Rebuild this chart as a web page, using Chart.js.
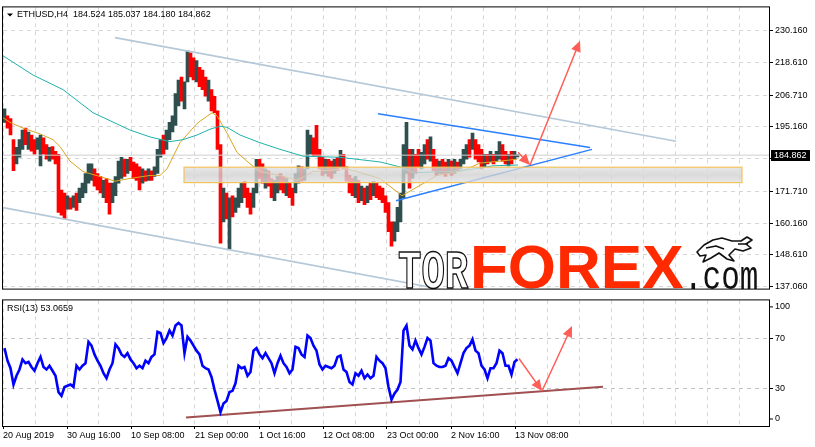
<!DOCTYPE html>
<html>
<head>
<meta charset="utf-8">
<script src="https://cdn.jsdelivr.net/npm/chart.js@4.4.0/dist/chart.umd.min.js"></script>
<style>
  html, body { margin: 0; padding: 0; background: #fff; }
  #wrap { position: relative; width: 815px; height: 447px; overflow: hidden; }
  #priceBox { position: absolute; left: 0; top: 0; width: 815px; height: 296px; }
  #rsiBox { position: absolute; left: 0; top: 293px; width: 815px; height: 154px; }
</style>
</head>
<body>
<div id="wrap">
  <div id="priceBox"><canvas id="priceChart"></canvas></div>
  <div id="rsiBox"><canvas id="rsiChart"></canvas></div>
</div>
<script>
// ETHUSD H4 + RSI(13)
// x axis = H4 bar count from 20 Aug 2019 00:00 (64 bars between date labels)

const xTickLabels = ['20 Aug 2019', '30 Aug 16:00', '10 Sep 08:00', '21 Sep 00:00', '1 Oct 16:00',
                     '12 Oct 08:00', '23 Oct 00:00', '2 Nov 16:00', '13 Nov 08:00'];
const priceTicks = [137.06, 148.61, 160.16, 171.71, 183.61, 195.16, 206.71, 218.61, 230.16];
const rsiTicks   = [0, 30, 70, 100];
const lastOHLC   = [184.524, 185.037, 184.180, 184.862];
const rsiLast    = 53.0659;

// price, one entry per 3 H4 bars
const barHigh = [
  201.7, 199.2, 198.2, 190.5, 187.7, 190.5, 194.0, 194.7, 193.3, 192.2,
  190.5, 191.2, 192.2, 191.2, 188.7, 187.7, 188.0, 186.3, 185.2, 172.2,
  171.1, 170.1, 169.4, 170.1, 171.1, 172.9, 174.7, 178.2, 181.7, 181.7,
  179.9, 178.2, 177.1, 175.7, 176.4, 174.7, 174.7, 177.1, 182.7, 184.1,
  183.4, 183.4, 184.1, 182.4, 181.7, 180.6, 179.9, 179.2, 179.9, 179.2,
  180.6, 187.0, 190.5, 192.2, 194.0, 196.8, 199.2, 207.3, 212.2, 213.3,
  211.5, 222.8, 222.1, 220.3, 219.3, 216.8, 215.8, 213.3, 212.2, 208.7,
  206.3, 201.0, 188.7, 172.9, 171.1, 169.4, 170.1, 169.4, 172.9, 174.7,
  175.4, 172.9, 171.1, 172.9, 183.4, 183.4, 181.7, 179.9, 179.2, 176.4,
  175.7, 177.1, 178.2, 177.1, 176.4, 174.7, 172.9, 178.2, 181.0, 180.6,
  179.9, 194.0, 192.2, 191.2, 195.7, 187.0, 184.1, 183.4, 183.4, 182.7,
  183.4, 184.1, 186.6, 185.2, 180.6, 177.5, 176.4, 177.1, 175.7, 173.6,
  172.9, 173.6, 174.7, 175.4, 174.7, 173.6, 172.9, 170.1, 167.6, 160.6,
  160.6, 165.9, 171.1, 188.7, 196.8, 187.0, 187.0, 185.2, 187.0, 185.9,
  188.7, 190.5, 191.5, 187.0, 183.4, 182.7, 183.4, 182.4, 183.4, 182.7,
  183.4, 182.4, 183.4, 187.0, 188.7, 190.5, 192.9, 190.5, 188.7, 187.0,
  185.2, 185.2, 186.3, 185.2, 186.3, 189.8, 188.7, 186.3, 185.2, 186.3,
  186.3, 185.0
];
const barLow = [
  196.8, 194.7, 192.2, 179.2, 181.7, 184.1, 187.0, 188.7, 187.0, 186.3,
  185.2, 187.0, 181.0, 185.2, 183.4, 182.7, 183.4, 181.7, 164.1, 163.1,
  161.7, 165.2, 165.2, 165.9, 164.8, 167.6, 169.4, 171.1, 174.7, 175.7,
  173.6, 172.2, 171.1, 169.4, 167.6, 163.4, 167.6, 170.1, 174.7, 176.4,
  177.1, 178.2, 179.2, 176.4, 175.7, 172.2, 174.7, 175.4, 175.7, 175.7,
  177.1, 178.2, 184.1, 185.2, 187.0, 190.5, 193.3, 195.7, 202.8, 204.5,
  201.7, 211.5, 213.3, 212.2, 211.5, 209.8, 208.7, 206.3, 204.5, 201.0,
  200.3, 187.0, 152.9, 160.6, 161.7, 150.8, 162.4, 164.1, 165.9, 167.6,
  169.4, 165.9, 163.4, 165.9, 171.1, 176.4, 174.7, 172.9, 173.6, 169.4,
  168.3, 171.1, 172.2, 171.1, 170.1, 169.4, 166.6, 171.1, 174.7, 175.4,
  175.7, 179.9, 185.2, 184.5, 184.5, 179.9, 177.5, 178.2, 177.1, 176.4,
  178.2, 179.2, 180.6, 179.9, 175.4, 171.1, 170.1, 169.4, 167.6, 168.3,
  166.9, 167.6, 168.7, 170.1, 169.4, 168.7, 167.6, 164.1, 157.1, 151.8,
  153.6, 157.1, 160.6, 169.4, 178.2, 172.9, 176.4, 178.2, 180.6, 179.9,
  181.7, 183.4, 182.7, 179.2, 177.5, 178.2, 178.2, 177.1, 178.2, 177.5,
  178.2, 179.2, 179.9, 181.7, 183.4, 184.1, 187.0, 183.4, 182.4, 179.9,
  180.6, 181.7, 182.4, 181.7, 182.7, 183.4, 182.7, 181.7, 181.0, 181.7,
  183.4, 184.2
];
// u = up candle, d = down candle
const barDir = ('udddu uudud duudd udddd dudud uuuuu dddud duuuu duddd dudud uuudu uuuud ' +
                'uuddu dddud dddud uduuu ddduu ddudd uuddu dduud uuudd ddudd ududd ddudu ' +
                'dudud ddddd uuuuu duddu ududd uddud uduuu duddd ududu uddud uu').replace(/ /g, '');

// RSI(13), one entry per 3 H4 bars
const rsiValues = [
  62, 52, 46, 33, 40, 45, 53, 50, 51, 47,
  44, 50, 55, 47, 45, 48, 44, 40, 27, 24,
  31, 32, 33, 31, 48, 45, 48, 50, 67, 64,
  57, 52, 48, 42, 38, 45, 50, 65, 62, 57,
  55, 58, 53, 50, 46, 48, 46, 52, 50, 55,
  57, 75, 74, 66, 70, 76, 72, 80, 82, 80,
  58, 71, 68, 64, 60, 57, 48, 46, 45, 39,
  29, 20, 11, 18, 20, 27, 28, 34, 48, 46,
  47, 40, 43, 60, 62, 57, 54, 58, 54, 50,
  42, 50, 56, 50, 47, 42, 45, 63, 62, 57,
  55, 72, 70, 64, 60, 49, 45, 48, 47, 46,
  48, 55, 56, 45, 43, 35, 33, 42, 40, 44,
  38, 41, 38, 40, 55, 52, 50, 46, 31, 21,
  26, 29, 35, 76, 80, 64, 61, 68, 62, 57,
  63, 70, 68, 50, 48, 47, 47, 48, 54, 52,
  47, 42, 50, 58, 62, 64, 69, 60, 58, 48,
  45, 38, 46, 46, 50, 60, 58, 48, 48, 41,
  51, 53.07
];

// moving averages (teal = slow, orange = fast)
const maSlowX = [0, 30, 60, 90, 127, 147, 167, 180, 194, 207, 217, 224, 237, 257, 277, 300, 337, 377, 397, 410, 444, 467, 490, 515];
const maSlow  = [221.0, 214.0, 208.7, 200.3, 194.0, 191.5, 189.8, 190.5, 192.2, 194.3, 195.4, 195.0, 192.2, 189.4,
                 187.0, 184.5, 184.1, 182.4, 180.6, 178.5, 178.9, 179.6, 181.0, 181.3];
const maFastX = [0, 7, 20, 37, 50, 57, 67, 80, 97, 112, 127, 147, 157, 164, 177, 194, 209, 214, 224, 234, 247,
                 257, 277, 294, 310, 344, 377, 399, 417, 434, 460, 477, 497, 514];
const maFast  = [198.5, 196.8, 194.7, 192.6, 190.5, 188.0, 182.7, 178.9, 177.1, 175.4, 176.4, 177.5, 177.5, 179.9,
                 189.4, 196.4, 200.3, 199.2, 192.9, 185.9, 181.7, 178.9, 177.5, 175.7, 178.9, 179.9, 176.4, 170.1,
                 173.9, 177.5, 179.2, 182.0, 182.7, 183.4];

// drawn objects
const channelTopX = [112, 673];  const channelTop = [227.6, 189.9];
const channelBotX = [0, 440];    const channelBot = [165.8, 136.0];
const wedgeTopX   = [375, 587];  const wedgeTop   = [199.95, 187.66];
const wedgeBotX   = [393, 589];  const wedgeBot   = [168.3, 187.0];
const zoneX = [181, 739];        const zoneY = [174.9, 180.5];
const priceArrows = [[515, 185.9, 527, 181.3], [527, 181.3, 577, 226.5]];
const rsiTrendX = [183, 600];    const rsiTrend = [6.7, 31.2];
const rsiArrows = [[516, 53.7, 539, 27.9], [539, 27.9, 569, 79.6]];

const X_MAX = 766;
const GRID = '#d6d6d6';

Chart.defaults.font.family = '"Liberation Sans", Arial, sans-serif';
Chart.defaults.font.size = 9;
Chart.defaults.color = '#000';

const pts = (xs, ys) => xs.map((x, i) => ({ x, y: ys[i] }));

function drawArrow(ctx, x1, y1, x2, y2, color) {
  const a = Math.atan2(y2 - y1, x2 - x1);
  const len = 11, half = 5;
  ctx.strokeStyle = color;
  ctx.fillStyle = color;
  ctx.lineWidth = 1.5;
  ctx.beginPath();
  ctx.moveTo(x1, y1);
  ctx.lineTo(x2 - Math.cos(a) * len * 0.7, y2 - Math.sin(a) * len * 0.7);
  ctx.stroke();
  ctx.beginPath();
  ctx.moveTo(x2, y2);
  ctx.lineTo(x2 - len * Math.cos(a) + half * Math.sin(a), y2 - len * Math.sin(a) - half * Math.cos(a));
  ctx.lineTo(x2 - len * Math.cos(a) - half * Math.sin(a), y2 - len * Math.sin(a) + half * Math.cos(a));
  ctx.closePath();
  ctx.fill();
}

const zonePlugin = {
  id: 'zone',
  afterDatasetsDraw(chart) {
    const { ctx, scales: { x, y } } = chart;
    const l = x.getPixelForValue(zoneX[0]), r = x.getPixelForValue(zoneX[1]);
    const t = y.getPixelForValue(zoneY[1]), b = y.getPixelForValue(zoneY[0]);
    ctx.save();
    const g = ctx.createLinearGradient(0, t, 0, b);
    g.addColorStop(0, 'rgba(225,225,225,0.78)');
    g.addColorStop(0.5, 'rgba(208,208,208,0.78)');
    g.addColorStop(1, 'rgba(225,225,225,0.78)');
    ctx.fillStyle = g;
    ctx.fillRect(l, t, r - l, b - t);
    ctx.strokeStyle = '#f3c35a';
    ctx.lineWidth = 1.2;
    ctx.strokeRect(l, t, r - l, b - t);
    ctx.restore();
  }
};

const arrowsPlugin = {
  id: 'arrows',
  afterDatasetsDraw(chart, args, opts) {
    const { ctx, scales: { x, y } } = chart;
    ctx.save();
    (opts.list || []).forEach(a => {
      drawArrow(ctx, x.getPixelForValue(a[0]), y.getPixelForValue(a[1]),
                x.getPixelForValue(a[2]), y.getPixelForValue(a[3]), opts.color);
    });
    ctx.restore();
  }
};

// site watermark: TORFOREX.com with the bull/bear mark
const watermarkPlugin = {
  id: 'watermark',
  afterDatasetsDraw(chart) {
    const ctx = chart.ctx;
    ctx.save();
    ctx.textBaseline = 'alphabetic';
    ctx.textAlign = 'left';
    ctx.save();
    ctx.translate(398, 288);
    ctx.scale(1, 1.38);
    ctx.font = 'bold 39px "Liberation Mono"';
    ctx.fillStyle = '#fff';
    ctx.strokeStyle = '#111';
    ctx.lineWidth = 1.1;
    ctx.fillText('TOR', 0, 0);
    ctx.strokeText('TOR', 0, 0);
    ctx.restore();
    ctx.font = 'bold 62px "Liberation Sans"';
    ctx.fillStyle = '#ff2a00';
    ctx.fillText('FOREX', 470, 288);
    ctx.save();
    ctx.translate(684, 289);
    ctx.scale(1, 1.3);
    ctx.font = '31px "Liberation Mono"';
    ctx.fillStyle = '#111';
    ctx.fillText('.com', 0, 0);
    ctx.restore();
    // bull & bear mark
    ctx.fillStyle = '#fff';
    ctx.strokeStyle = '#111';
    ctx.lineWidth = 1.6;
    ctx.lineJoin = 'round';
    ctx.beginPath();
    ctx.moveTo(697, 252); ctx.lineTo(704, 245); ctx.lineTo(713, 240); ctx.lineTo(722, 238);
    ctx.lineTo(732, 241); ctx.lineTo(741, 241); ctx.lineTo(747, 237); ctx.lineTo(752, 240);
    ctx.lineTo(746, 244); ctx.lineTo(751, 248); ctx.lineTo(743, 251); ctx.lineTo(735, 249);
    ctx.lineTo(729, 255); ctx.lineTo(734, 261); ctx.lineTo(727, 259); ctx.lineTo(719, 253);
    ctx.lineTo(711, 258); ctx.lineTo(703, 262); ctx.lineTo(706, 255); ctx.lineTo(700, 256);
    ctx.closePath();
    ctx.fill();
    ctx.stroke();
    ctx.beginPath();
    ctx.moveTo(706, 248); ctx.lineTo(716, 246); ctx.lineTo(724, 249);
    ctx.moveTo(738, 244); ctx.lineTo(748, 244);
    ctx.stroke();
    ctx.restore();
  }
};

const headerPlugin = {
  id: 'header',
  afterDraw(chart, args, opts) {
    const { ctx, chartArea: a } = chart;
    ctx.save();
    ctx.fillStyle = '#000';
    ctx.font = '9px "Liberation Sans"';
    ctx.textBaseline = 'middle';
    ctx.textAlign = 'left';
    if (opts.triangle) {
      ctx.beginPath();
      ctx.moveTo(a.left + 4, a.top + 6);
      ctx.lineTo(a.left + 10, a.top + 6);
      ctx.lineTo(a.left + 7, a.top + 9);
      ctx.closePath();
      ctx.fill();
    }
    ctx.fillText(opts.text, a.left + opts.dx, a.top + opts.dy);
    ctx.restore();
  }
};

const priceTagPlugin = {
  id: 'priceTag',
  afterDraw(chart) {
    const { ctx, chartArea: a, scales: { y } } = chart;
    const py = Math.round(y.getPixelForValue(lastOHLC[3]));
    ctx.save();
    ctx.fillStyle = '#000';
    ctx.fillRect(a.right + 2, py - 5, 39, 11);
    ctx.fillStyle = '#fff';
    ctx.font = '9px "Liberation Sans"';
    ctx.textBaseline = 'middle';
    ctx.textAlign = 'left';
    ctx.fillText(lastOHLC[3].toFixed(3), a.right + 5, py + 0.5);
    ctx.restore();
  }
};

const rsiEdgePlugin = {
  id: 'rsiEdge',
  afterDraw(chart) {
    const { ctx, chartArea: a, scales: { y } } = chart;
    const yTop = y.getPixelForValue(100) + 6.5, yBot = y.getPixelForValue(0) - 7;
    ctx.save();
    ctx.fillStyle = '#000';
    ctx.font = '9px "Liberation Sans"';
    ctx.textBaseline = 'middle';
    ctx.textAlign = 'left';
    ctx.fillText(String(rsiTicks[3]), a.right + 6, yTop);
    ctx.fillText(String(rsiTicks[0]), a.right + 6, yBot);
    ctx.strokeStyle = '#000';
    ctx.beginPath();
    ctx.moveTo(a.right, yTop); ctx.lineTo(a.right + 4, yTop);
    ctx.moveTo(a.right, yBot); ctx.lineTo(a.right + 4, yBot);
    ctx.stroke();
    ctx.restore();
  }
};

const framePlugin = {
  id: 'frame',
  afterDraw(chart) {
    const { ctx, chartArea: a } = chart;
    ctx.save();
    ctx.strokeStyle = '#000';
    ctx.lineWidth = 1;
    ctx.strokeRect(a.left - 0.5, a.top - 0.5, a.right - a.left + 1, a.bottom - a.top + 1);
    ctx.restore();
  }
};

const xGridTicks = scale => {
  const t = [];
  for (let v = 0; v <= 736; v += 32) t.push({ value: v });
  scale.ticks = t;
};

// ---------------- price panel ----------------
const candles = barHigh.map((h, i) => ({ x: i * 3 + 1.5, y: [barLow[i], h] }));
const candleColors = barDir.split('').map(c => c === 'u' ? '#2f4f4f' : '#ff0000');

new Chart(document.getElementById('priceChart'), {
  type: 'bar',
  data: {
    datasets: [
      { type: 'bar', data: candles, backgroundColor: candleColors, barThickness: 3, grouped: false, borderWidth: 0, order: 6 },
      { type: 'line', data: pts(maSlowX, maSlow), borderColor: '#20b2aa', borderWidth: 1, pointRadius: 0, order: 4 },
      { type: 'line', data: pts(maFastX, maFast), borderColor: '#daa520', borderWidth: 1, pointRadius: 0, order: 4 },
      { type: 'line', data: pts([0, X_MAX], [lastOHLC[3], lastOHLC[3]]), borderColor: '#d0d0d0', borderWidth: 1, pointRadius: 0, order: 5 },
      { type: 'line', data: pts(channelTopX, channelTop), borderColor: '#b4c8d8', borderWidth: 1.6, pointRadius: 0, order: 2 },
      { type: 'line', data: pts(channelBotX, channelBot), borderColor: '#b4c8d8', borderWidth: 1.6, pointRadius: 0, order: 2 },
      { type: 'line', data: pts(wedgeTopX, wedgeTop), borderColor: '#2a7fff', borderWidth: 1.4, pointRadius: 0, order: 1 },
      { type: 'line', data: pts(wedgeBotX, wedgeBot), borderColor: '#2a7fff', borderWidth: 1.4, pointRadius: 0, order: 1 }
    ]
  },
  options: {
    responsive: true,
    maintainAspectRatio: false,
    animation: false,
    devicePixelRatio: 1,
    events: [],
    layout: { padding: { left: 3, top: 3, right: 0, bottom: 2 } },
    plugins: {
      legend: { display: false },
      tooltip: { enabled: false },
      arrows: { list: priceArrows, color: '#ff5e57' },
      header: {
        triangle: true, dx: 14, dy: 7.5,
        text: 'ETHUSD,H4  ' + lastOHLC.map(v => v.toFixed(3)).join(' ')
      }
    },
    scales: {
      x: {
        type: 'linear', min: 0, max: X_MAX, offset: false,
        afterBuildTicks: xGridTicks,
        afterFit: s => { s.height = 0; },
        ticks: { display: false },
        grid: { color: GRID, drawTicks: false, offset: false },
        border: { display: false, dash: [4, 4] }
      },
      y: {
        position: 'right', min: 136.36, max: 238.59,
        afterBuildTicks: s => { s.ticks = priceTicks.map(v => ({ value: v })); },
        afterFit: s => { s.width = 46; },
        ticks: { callback: v => v.toFixed(3), padding: 2 },
        grid: { color: GRID, tickLength: 4, tickColor: '#000', tickBorderDash: [] },
        border: { display: false, dash: [4, 4] }
      }
    }
  },
  plugins: [zonePlugin, arrowsPlugin, watermarkPlugin, headerPlugin, priceTagPlugin, framePlugin]
});

// ---------------- RSI panel ----------------
new Chart(document.getElementById('rsiChart'), {
  type: 'line',
  data: {
    datasets: [
      { data: rsiValues.map((v, i) => ({ x: i * 3 + 1.5, y: v })), borderColor: '#0000ff', borderWidth: 2.6, pointRadius: 0, order: 1 },
      { data: pts(rsiTrendX, rsiTrend), borderColor: '#a05050', borderWidth: 2, pointRadius: 0, order: 2 }
    ]
  },
  options: {
    responsive: true,
    maintainAspectRatio: false,
    animation: false,
    devicePixelRatio: 1,
    events: [],
    layout: { padding: { left: 3, top: 4, right: 0, bottom: 0 } },
    plugins: {
      legend: { display: false },
      tooltip: { enabled: false },
      arrows: { list: rsiArrows, color: '#ff5e57' },
      header: { triangle: false, dx: 4, dy: 8.5, text: 'RSI(13) ' + rsiLast.toFixed(4) }
    },
    scales: {
      x: {
        type: 'linear', min: 0, max: X_MAX,
        afterBuildTicks: xGridTicks,
        afterFit: s => { s.height = 21; },
        ticks: {
          autoSkip: false, maxRotation: 0, align: 'start', padding: 1,
          callback: v => (v % 64 === 0 && xTickLabels[v / 64]) ? xTickLabels[v / 64] : ''
        },
        grid: {
          color: GRID, tickLength: 3, tickBorderDash: [],
          tickColor: c => (c.tick && c.tick.value % 64 === 0 && c.tick.value <= 512) ? '#000' : 'rgba(0,0,0,0)'
        },
        border: { display: false, dash: [4, 4] }
      },
      y: {
        position: 'right', min: 0, max: 100,
        afterBuildTicks: s => { s.ticks = rsiTicks.map(v => ({ value: v })); },
        afterFit: s => { s.width = 46; },
        ticks: { callback: v => (v === 0 || v === 100) ? '' : String(v), padding: 2 },
        grid: {
          color: c => (c.tick && (c.tick.value === 30 || c.tick.value === 70)) ? '#c4c4c4' : 'rgba(0,0,0,0)',
          tickLength: 4, tickBorderDash: [],
          tickColor: c => (c.tick && (c.tick.value === 30 || c.tick.value === 70)) ? '#000' : 'rgba(0,0,0,0)'
        },
        border: { display: false, dash: [4, 4] }
      }
    }
  },
  plugins: [arrowsPlugin, headerPlugin, rsiEdgePlugin, framePlugin]
});
</script>
</body>
</html>
